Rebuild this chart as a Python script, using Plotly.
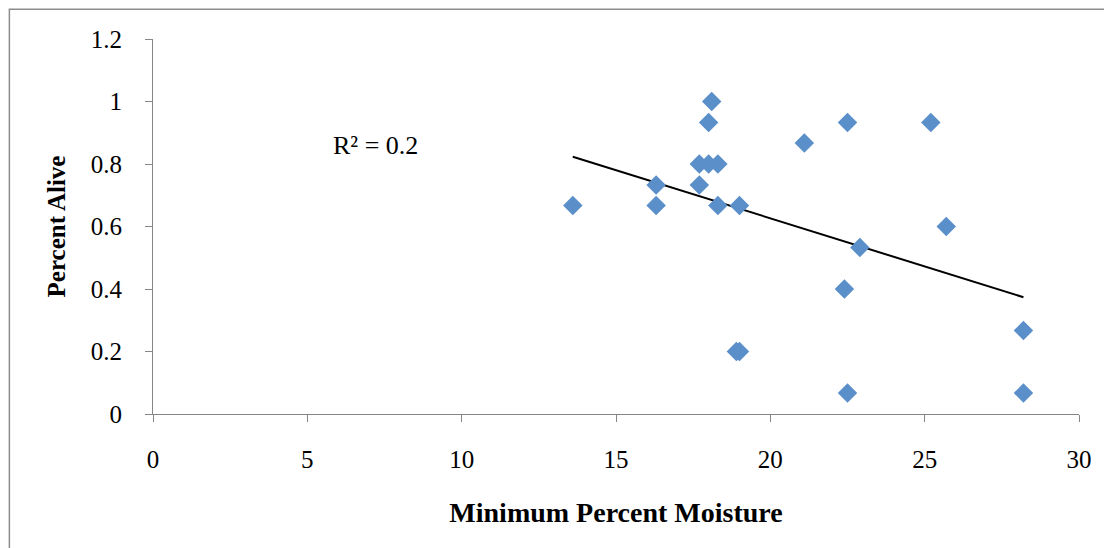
import numpy as np
import plotly.graph_objects as go

# Data
min_moisture = [13.6, 16.3, 16.3, 17.7, 17.7, 18.0, 18.3, 18.1, 18.0, 18.3, 19.0,
                18.9, 19.0, 21.1, 22.5, 22.4, 22.5, 22.9, 25.2, 25.7, 28.2, 28.2]
percent_alive = [0.667, 0.733, 0.667, 0.8, 0.733, 0.8, 0.8, 1.0, 0.933, 0.667, 0.667,
                 0.2, 0.2, 0.867, 0.933, 0.4, 0.067, 0.533, 0.933, 0.6, 0.267, 0.067]
r2_label = "R\u00b2 = 0.2"
x_ticks = [0, 5, 10, 15, 20, 25, 30]
y_ticks = [0, 0.2, 0.4, 0.6, 0.8, 1.0, 1.2]

x = np.array(min_moisture)
y = np.array(percent_alive)
slope, intercept = np.polyfit(x, y, 1)
trend_x = [x.min(), x.max()]
trend_y = [slope * v + intercept for v in trend_x]

FONT = "Liberation Serif"
AXIS_COLOR = "#868686"

fig = go.Figure()
fig.add_trace(go.Scatter(
    x=trend_x, y=trend_y, mode="lines",
    line=dict(color="black", width=2), hoverinfo="skip", showlegend=False,
))
fig.add_trace(go.Scatter(
    x=min_moisture, y=percent_alive, mode="markers",
    marker=dict(symbol="diamond", size=15, color="#5B8FCA", line=dict(width=0)),
    showlegend=False,
))

fig.add_annotation(
    x=7.2, y=0.858, xref="x", yref="y", text=r2_label, showarrow=False,
    font=dict(family=FONT, size=26, color="black"),
)

# Outer chart border
fig.add_shape(type="rect", xref="paper", yref="paper",
              x0=-0.1551, x1=1.3, y0=-0.6, y1=1.0795,
              line=dict(color="#8c8c8c", width=1.5), fillcolor="rgba(0,0,0,0)")

fig.update_layout(
    width=1104, height=540,
    margin=dict(l=145, r=33, t=31, b=134),
    plot_bgcolor="white", paper_bgcolor="white",
    font=dict(family=FONT, size=25, color="black"),
    xaxis=dict(
        range=[0, 30], tickvals=x_ticks, showgrid=False, zeroline=False,
        showline=True, linecolor=AXIS_COLOR, linewidth=1,
        ticks="outside", ticklen=7, tickcolor=AXIS_COLOR, tickwidth=1,
        ticklabelstandoff=16,
        tickfont=dict(family=FONT, size=25),
        title=dict(text="<b>Minimum Percent Moisture</b>",
                   font=dict(family=FONT, size=28), standoff=30),
    ),
    yaxis=dict(
        range=[0, 1.2], tickvals=y_ticks, showgrid=False, zeroline=False,
        showline=True, linecolor=AXIS_COLOR, linewidth=1,
        ticks="outside", ticklen=7, tickcolor=AXIS_COLOR, tickwidth=1,
        ticklabelstandoff=18,
        tickfont=dict(family=FONT, size=25),
        title=dict(text="<b>Percent Alive</b>",
                   font=dict(family=FONT, size=25), standoff=18),
    ),
)

fig.write_html("out.html")
